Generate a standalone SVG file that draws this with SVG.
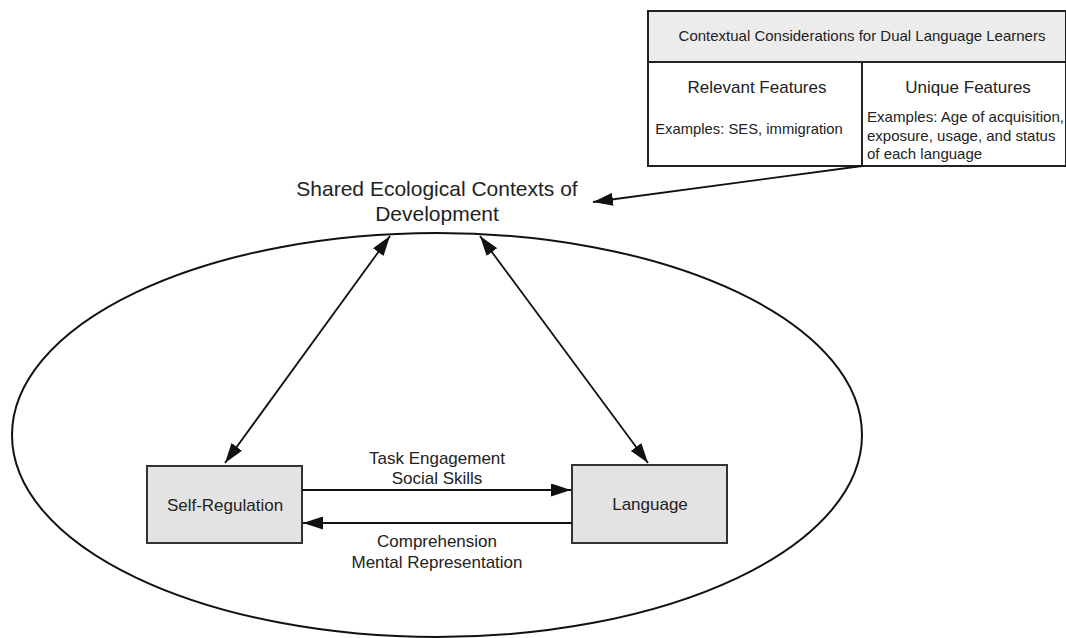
<svg xmlns="http://www.w3.org/2000/svg" width="1066" height="638" viewBox="0 0 1066 638">
<style>
.t{font-family:"Liberation Sans",Arial,sans-serif;fill:#222;}
.box{fill:#e3e3e3;stroke:#333;stroke-width:2;}
.cell{fill:#fff;stroke:#222;stroke-width:2;}
.ln{stroke:#111;stroke-width:1.8;fill:none;}
</style>
<defs>
<marker id="ahb" viewBox="0 0 10 10" refX="10" refY="5" markerWidth="20" markerHeight="13" markerUnits="userSpaceOnUse" orient="auto-start-reverse" preserveAspectRatio="none">
<path d="M0,0 L10,5 L0,10 z" fill="#111"/>
</marker>
</defs>
<rect width="1066" height="638" fill="#fff"/>
<g id="context">
<ellipse cx="437" cy="435" rx="425" ry="202" fill="none" stroke="#111" stroke-width="2"/>
<text class="t" x="437" y="196" font-size="21" text-anchor="middle">Shared Ecological Contexts of</text>
<text class="t" x="437" y="221" font-size="21" text-anchor="middle">Development</text>
</g>
<g id="table">
<rect x="648" y="11" width="418" height="51" fill="#ececec" stroke="#222" stroke-width="2"/>
<rect class="cell" x="648" y="62" width="214" height="104"/>
<rect class="cell" x="862" y="62" width="204" height="104"/>
<text class="t" x="862" y="41" font-size="15" text-anchor="middle">Contextual Considerations for Dual Language Learners</text>
<text class="t" x="757" y="93" font-size="17" text-anchor="middle">Relevant Features</text>
<text class="t" x="749" y="134" font-size="14.8" text-anchor="middle">Examples: SES, immigration</text>
<text class="t" x="968" y="93" font-size="17" text-anchor="middle">Unique Features</text>
<text class="t" x="867" y="122" font-size="15" textLength="197" lengthAdjust="spacingAndGlyphs">Examples: Age of acquisition,</text>
<text class="t" x="867" y="141" font-size="15">exposure, usage, and status</text>
<text class="t" x="867" y="159" font-size="15">of each language</text>
</g>
<g id="self-regulation">
<rect class="box" x="147" y="466" width="155" height="77"/>
<text class="t" x="225" y="511" font-size="17" text-anchor="middle">Self-Regulation</text>
</g>
<g id="language">
<rect class="box" x="572" y="465" width="155" height="78"/>
<text class="t" x="650" y="510" font-size="17" text-anchor="middle">Language</text>
</g>
<g id="connectors">
<line class="ln" x1="862" y1="166" x2="593" y2="202" marker-end="url(#ahb)"/>
<line class="ln" x1="390" y1="236" x2="225" y2="463" marker-start="url(#ahb)" marker-end="url(#ahb)"/>
<line class="ln" x1="480" y1="236" x2="648" y2="463" marker-start="url(#ahb)" marker-end="url(#ahb)"/>
<line class="ln" x1="302" y1="490" x2="571" y2="490" marker-end="url(#ahb)"/>
<line class="ln" x1="572" y1="523" x2="303" y2="523" marker-end="url(#ahb)"/>
<text class="t" x="437" y="464" font-size="17" text-anchor="middle">Task Engagement</text>
<text class="t" x="437" y="484" font-size="17" text-anchor="middle">Social Skills</text>
<text class="t" x="437" y="547" font-size="17" text-anchor="middle">Comprehension</text>
<text class="t" x="437" y="568" font-size="17" text-anchor="middle">Mental Representation</text>
</g>
</svg>
